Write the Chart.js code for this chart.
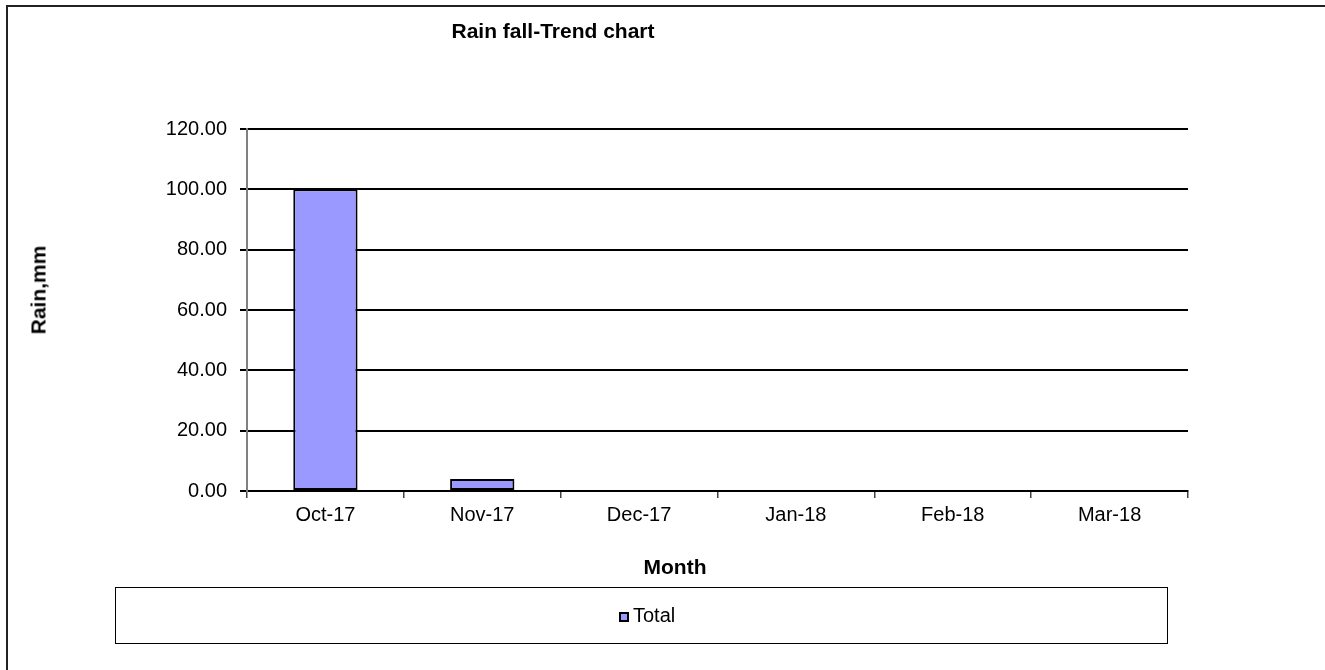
<!DOCTYPE html>
<html>
<head>
<meta charset="utf-8">
<script src="https://cdn.jsdelivr.net/npm/chart.js@4"></script>
<style>
  html, body { margin: 0; padding: 0; background: #fff; overflow: hidden; }
  body { width: 1325px; height: 670px; position: relative; font-family: "Liberation Sans", Arial, sans-serif; color: #000; }
  #frame { position: absolute; left: 6px; top: 5px; width: 1400px; height: 800px; border-left: 2px solid #222; border-top: 2px solid #222; }
  #c { position: absolute; left: 0; top: 0; }
  .lbl { position: absolute; white-space: nowrap; font-weight: bold; font-size: 21px; line-height: 21px; }
  #title { left: 553px; top: 20px; transform: translateX(-50%); }
  #xtitle { left: 675px; top: 556px; transform: translateX(-50%); }
  #ytitle { left: 38px; top: 290px; transform: translate(-50%, -50%) rotate(-90deg); }
  #legend { position: absolute; left: 115px; top: 587px; width: 1053px; height: 57px; box-sizing: border-box; border: 1px solid #000; }
  #legendItem { position: absolute; left: 503px; top: 17px; font-size: 20px; line-height: 20px; white-space: nowrap; }
  #legendItem .sw { display: inline-block; width: 10px; height: 10px; box-sizing: border-box; border: 2px solid #000; margin-right: 4px; vertical-align: 0px; }
</style>
</head>
<body>
<div id="frame"></div>
<canvas id="c" width="1325" height="670"></canvas>
<div id="title" class="lbl"></div>
<div id="xtitle" class="lbl"></div>
<div id="ytitle" class="lbl"></div>
<div id="legend"><div id="legendItem"></div></div>
<script>
// ---- data ----
const chartTitle = "Rain fall-Trend chart";
const xAxisTitle = "Month";
const yAxisTitle = "Rain,mm";
const months = ["Oct-17", "Nov-17", "Dec-17", "Jan-18", "Feb-18", "Mar-18"];
const seriesName = "Total";
const rainTotal = [100.0, 4.0, 0, 0, 0, 0];
const yMin = 0, yMax = 120, yStep = 20;

document.getElementById('title').textContent = chartTitle;
document.getElementById('xtitle').textContent = xAxisTitle;
document.getElementById('ytitle').textContent = yAxisTitle;

const barColor = '#9999FF';

const chart = new Chart(document.getElementById('c'), {
  type: 'bar',
  data: {
    labels: months,
    datasets: [{
      label: seriesName,
      data: rainTotal,
      backgroundColor: barColor,
      borderColor: '#000',
      borderWidth: 2,
      borderSkipped: false,
      categoryPercentage: 1.0,
      barPercentage: 0.41
    }]
  },
  options: {
    responsive: false,
    animation: false,
    devicePixelRatio: 1,
    layout: { padding: { left: 0, right: 137, top: 129, bottom: 0 } },
    plugins: {
      legend: { display: false },
      title: { display: false },
      tooltip: { enabled: false }
    },
    scales: {
      x: {
        grid: { display: true, drawOnChartArea: false, offset: true, tickLength: 7, tickColor: '#444', lineWidth: 1.5 },
        border: { display: true, color: '#000', width: 2 },
        ticks: { color: '#000', padding: 5, font: { family: 'Liberation Sans', size: 20 }, maxRotation: 0 },
        afterFit: s => { s.height = 179; }
      },
      y: {
        min: yMin, max: yMax,
        grid: { color: '#000', lineWidth: 2, tickLength: 7, tickColor: '#000' },
        border: { display: true, color: '#808080', width: 2 },
        ticks: {
          stepSize: yStep, color: '#000', padding: 13,
          font: { family: 'Liberation Sans', size: 20 },
          callback: v => Number(v).toFixed(2)
        },
        afterFit: s => { s.width = 247; }
      }
    }
  }
});

// HTML legend built from the dataset
const ds = chart.data.datasets[0];
const li = document.getElementById('legendItem');
const sw = document.createElement('span');
sw.className = 'sw';
sw.style.background = ds.backgroundColor;
li.appendChild(sw);
li.appendChild(document.createTextNode(ds.label));
</script>
</body>
</html>
